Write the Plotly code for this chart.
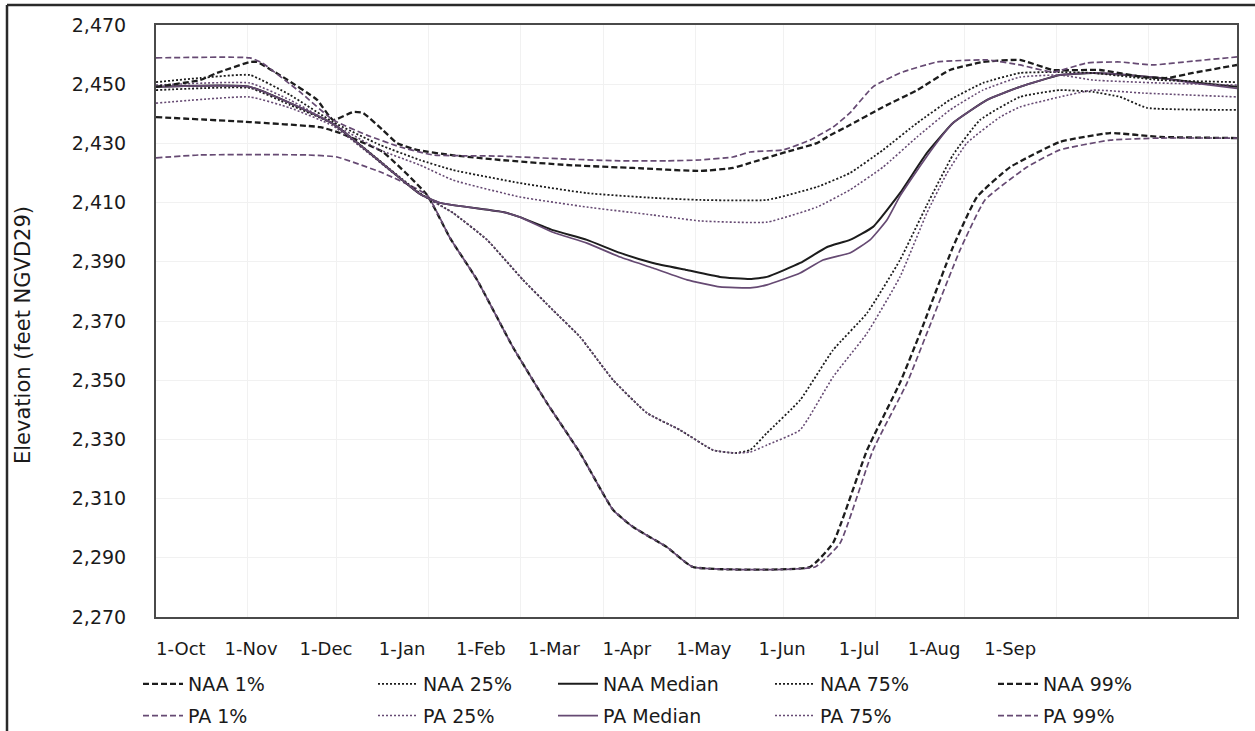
import plotly.graph_objects as go

# Horizontal axis runs in days from 1 October (0) to 30 September (365)
month_days = [0, 31, 61, 92, 123, 151, 182, 212, 243, 273, 304, 335]
month_labels = ["1-Oct", "1-Nov", "1-Dec", "1-Jan", "1-Feb", "1-Mar",
                "1-Apr", "1-May", "1-Jun", "1-Jul", "1-Aug", "1-Sep"]
# Category-label positions used on the axis (evenly spaced text labels)
label_pos = [8.4, 32.1, 57.4, 83.1, 109.7, 134.4, 159.0, 185.0, 211.4, 237.4, 262.7, 288.4]
elev_ticks = [2270, 2290, 2310, 2330, 2350, 2370, 2390, 2410, 2430, 2450, 2470]

# Reservoir elevation exceedance traces (feet NGVD29)
naa_01_day = [0, 31.7, 55.4, 62.1, 76.6, 91.5, 99.3, 108.4, 120.5, 132.0, 143.2, 154.3, 161.1, 172.5,
              181.3, 220.8, 228.6, 240.1, 251.2, 258.0, 269.1, 277.2, 288.4, 305.2, 322.1, 339.0, 365]
naa_01_elev = [2438.9, 2437.2, 2435.5, 2433.5, 2427.1, 2412.6, 2398.0, 2383.9, 2361.2, 2342.3, 2325.4,
               2306.2, 2300.4, 2293.6, 2286.9, 2286.9, 2295.0, 2326.4, 2349.1, 2365.9, 2395.0, 2411.9,
               2422.0, 2430.5, 2433.5, 2432.2, 2431.8]

pa_01_day = [0, 14.9, 51.0, 61.1, 76.6, 91.5, 99.3, 108.4, 120.5, 132.0, 143.2, 154.3, 161.1, 172.5,
             181.3, 222.5, 231.0, 242.1, 253.6, 260.3, 271.5, 279.9, 294.1, 305.2, 322.1, 339.0, 365]
pa_01_elev = [2425.1, 2426.1, 2426.1, 2425.4, 2420.0, 2412.6, 2398.0, 2383.9, 2361.2, 2342.3, 2325.4,
              2306.2, 2300.4, 2293.6, 2286.9, 2286.9, 2295.0, 2326.4, 2349.1, 2365.9, 2394.0, 2410.9,
              2422.0, 2427.8, 2431.1, 2431.8, 2431.8]

naa_25_day = [0, 31.7, 45.2, 59.8, 89.1, 100.3, 111.8, 123.9, 134.0, 143.2, 154.3, 165.8, 176.9, 188.1,
              195.5, 200.6, 206.3, 217.5, 228.6, 240.1, 251.2, 260.3, 269.1, 278.2, 291.7, 305.2, 316.4,
              325.5, 334.6, 365]
naa_25_elev = [2448.0, 2448.7, 2443.0, 2436.6, 2413.2, 2406.5, 2397.4, 2383.9, 2373.7, 2364.6, 2350.1,
               2338.9, 2333.2, 2326.4, 2325.4, 2326.4, 2332.2, 2343.3, 2360.2, 2372.7, 2390.6, 2409.2,
               2426.1, 2437.9, 2445.7, 2448.0, 2447.4, 2445.7, 2442.0, 2441.3]

pa_25_day = [0, 31.7, 45.2, 59.8, 89.1, 100.3, 111.8, 123.9, 134.0, 143.2, 154.3, 165.8, 176.9, 188.1,
             195.5, 200.6, 206.3, 217.5, 228.6, 240.1, 251.2, 260.3, 267.1, 273.8, 285.0, 291.7, 305.2,
             316.4, 333.3, 365]
pa_25_elev = [2443.6, 2445.7, 2442.0, 2435.9, 2412.9, 2406.5, 2397.4, 2383.9, 2373.7, 2364.6, 2350.1,
              2338.9, 2333.2, 2326.4, 2325.4, 2325.7, 2328.1, 2333.2, 2351.1, 2365.9, 2384.9, 2406.5,
              2420.0, 2430.1, 2438.9, 2442.3, 2445.7, 2448.0, 2447.0, 2445.7]

naa_med_day = [0, 31.7, 59.8, 89.1, 95.9, 117.2, 122.9, 134.0, 145.5, 156.7, 167.8, 179.3, 190.4, 200.6,
               206.3, 217.5, 226.6, 234.3, 242.1, 251.2, 260.3, 269.1, 280.6, 291.7, 305.2, 316.4, 327.9,
               339.0, 350.1, 365]
naa_med_elev = [2449.1, 2449.1, 2436.6, 2412.9, 2409.9, 2406.8, 2405.1, 2400.7, 2397.4, 2393.0, 2389.6,
                2387.2, 2384.9, 2384.2, 2384.9, 2389.6, 2395.0, 2397.4, 2401.8, 2413.2, 2426.8, 2436.9,
                2444.7, 2449.1, 2453.1, 2453.8, 2453.1, 2452.1, 2450.7, 2449.1]

pa_med_day = [0, 31.7, 59.8, 89.1, 95.9, 117.2, 122.9, 134.0, 145.5, 156.7, 167.8, 179.3, 190.4, 200.6,
              206.3, 217.5, 225.2, 234.3, 241.1, 246.8, 251.2, 260.3, 269.1, 280.6, 291.7, 305.2, 316.4,
              327.9, 339.0, 350.1, 365]
pa_med_elev = [2449.1, 2449.1, 2436.6, 2412.9, 2409.9, 2406.8, 2405.1, 2400.0, 2396.3, 2391.6, 2387.9,
               2383.9, 2381.5, 2381.2, 2382.2, 2386.2, 2390.6, 2393.0, 2397.4, 2404.1, 2412.2, 2425.7,
               2436.9, 2444.7, 2449.1, 2453.1, 2453.8, 2453.1, 2452.1, 2450.4, 2448.6]

naa_75_day = [0, 14.9, 31.7, 45.2, 59.8, 75.6, 89.1, 100.3, 122.9, 145.5, 167.8, 183.7, 206.3, 223.2,
              234.3, 245.5, 257.0, 268.1, 279.2, 291.7, 305.2, 316.4, 339.0, 365]
naa_75_elev = [2450.7, 2452.1, 2453.1, 2446.4, 2437.2, 2429.5, 2424.4, 2421.0, 2416.6, 2413.2, 2411.6,
               2410.9, 2410.9, 2415.3, 2420.0, 2427.8, 2436.9, 2444.7, 2450.4, 2453.8, 2454.1, 2453.8,
               2451.4, 2450.7]

pa_75_day = [0, 31.7, 45.2, 59.8, 75.6, 89.1, 100.3, 122.9, 145.5, 167.8, 183.7, 206.3, 223.2, 234.3,
             245.5, 257.0, 268.1, 279.2, 291.7, 305.2, 316.4, 339.0, 365]
pa_75_elev = [2449.7, 2450.4, 2444.7, 2436.6, 2427.8, 2422.7, 2417.6, 2411.9, 2408.5, 2405.8, 2403.8,
              2403.4, 2408.5, 2414.3, 2422.0, 2432.2, 2441.3, 2448.0, 2452.4, 2453.1, 2451.4, 2450.4,
              2449.7]

naa_99_day = [0, 14.9, 20.6, 31.7, 34.1, 42.9, 54.4, 59.8, 66.5, 69.9, 76.6, 81.4, 88.1, 99.3, 116.2,
              138.8, 161.1, 183.7, 194.8, 200.6, 211.7, 223.2, 226.6, 234.3, 245.5, 257.0, 268.1, 279.2,
              291.7, 302.9, 318.7, 333.3, 341.4, 350.1, 365]
naa_99_elev = [2449.1, 2451.4, 2453.8, 2457.5, 2457.5, 2452.4, 2444.7, 2437.9, 2440.6, 2440.3, 2434.5,
               2430.1, 2427.8, 2426.1, 2424.4, 2422.7, 2421.7, 2420.7, 2421.7, 2423.4, 2426.8, 2430.1,
               2432.2, 2436.2, 2442.3, 2448.0, 2454.8, 2457.5, 2458.2, 2454.8, 2454.8, 2452.4, 2452.1,
               2453.8, 2456.5]

pa_99_day = [0, 31.7, 35.8, 48.6, 59.8, 71.2, 82.4, 93.5, 116.2, 138.8, 156.7, 172.5, 183.7, 194.8,
             200.6, 211.7, 220.8, 228.6, 234.3, 242.1, 251.2, 263.7, 280.6, 291.7, 302.9, 314.4, 325.5,
             336.6, 350.1, 365]
pa_99_elev = [2458.9, 2458.9, 2457.2, 2447.4, 2437.9, 2432.8, 2428.8, 2426.1, 2425.7, 2424.7, 2424.1,
              2424.1, 2424.4, 2425.4, 2427.1, 2427.8, 2431.1, 2435.5, 2440.3, 2449.1, 2453.8, 2457.5,
              2458.2, 2456.5, 2454.1, 2457.2, 2457.5, 2456.5, 2457.8, 2459.2]

NAA_COLOR = "#1c1c1c"
PA_COLOR = "#664a73"
DASH = "6px,3px"
DOT = "2px,2px"

# name, x, y, colour, dash, width, legend column
series = [
    ("NAA 1%", naa_01_day, naa_01_elev, NAA_COLOR, DASH, 2.3, "legend"),
    ("PA 1%", pa_01_day, pa_01_elev, PA_COLOR, DASH, 1.7, "legend"),
    ("NAA 25%", naa_25_day, naa_25_elev, NAA_COLOR, DOT, 1.8, "legend2"),
    ("PA 25%", pa_25_day, pa_25_elev, PA_COLOR, DOT, 1.6, "legend2"),
    ("NAA Median", naa_med_day, naa_med_elev, NAA_COLOR, "solid", 2.0, "legend3"),
    ("PA Median", pa_med_day, pa_med_elev, PA_COLOR, "solid", 1.7, "legend3"),
    ("NAA 75%", naa_75_day, naa_75_elev, NAA_COLOR, DOT, 1.8, "legend4"),
    ("PA 75%", pa_75_day, pa_75_elev, PA_COLOR, DOT, 1.6, "legend4"),
    ("NAA 99%", naa_99_day, naa_99_elev, NAA_COLOR, DASH, 2.3, "legend5"),
    ("PA 99%", pa_99_day, pa_99_elev, PA_COLOR, DASH, 1.7, "legend5"),
]

fig = go.Figure()
for name, days, elev, color, dash, width, leg in series:
    fig.add_trace(go.Scatter(
        x=days, y=elev, mode="lines", name=name, legend=leg, legendgroup=name,
        line=dict(color=color, width=width, dash=dash, shape="spline", smoothing=0.4),
    ))

W, H = 1255, 731
L, R, T, B = 156, 18, 25, 114
pw, ph = W - L - R, H - T - B


def px_x(p):
    return (p - L) / pw


def px_y(p):
    return (H - B - p) / ph


FONT = "DejaVu Sans"
TEXT = "#1a1a1a"
SYMBOL_W = 40


def legend_box(text_left_px):
    return dict(
        orientation="v", x=px_x(text_left_px - SYMBOL_W - 10), xanchor="left",
        y=px_y(700), yanchor="middle", itemwidth=SYMBOL_W,
        font=dict(family=FONT, size=19, color=TEXT), tracegroupgap=4,
        bgcolor="rgba(0,0,0,0)", borderwidth=0,
    )


fig.update_layout(
    width=W, height=H,
    margin=dict(l=L, r=R, t=T, b=B, autoexpand=False),
    paper_bgcolor="white", plot_bgcolor="white",
    font=dict(family=FONT, size=19, color=TEXT),
    showlegend=True,
    legend=legend_box(188),
    legend2=legend_box(423),
    legend3=legend_box(603),
    legend4=legend_box(820),
    legend5=legend_box(1043),
    xaxis=dict(
        range=[0, 365], tickmode="array", tickvals=label_pos, ticktext=month_labels,
        showgrid=False, zeroline=False,
        minor=dict(tickmode="array", tickvals=month_days, showgrid=True,
                   gridcolor="#f1f1f1", gridwidth=1, ticks=""),
        showline=True, linecolor="#4a4a4a", linewidth=2, mirror=True,
        ticks="", ticklabelstandoff=14, tickfont=dict(family=FONT, size=18, color=TEXT),
    ),
    yaxis=dict(
        range=[2270, 2470], tickmode="array", tickvals=elev_ticks, tickformat=",",
        showgrid=True, gridcolor="#f1f1f1", gridwidth=1, zeroline=False,
        showline=True, linecolor="#4a4a4a", linewidth=2, mirror=True,
        ticks="", ticklabelstandoff=24, tickfont=dict(family=FONT, size=19, color=TEXT),
    ),
    annotations=[dict(
        text="Elevation (feet NGVD29)", textangle=-90,
        xref="paper", yref="paper", x=px_x(23), y=px_y(335),
        xanchor="center", yanchor="middle", showarrow=False,
        font=dict(family=FONT, size=21, color=TEXT),
    )],
    shapes=[
        dict(type="line", xref="paper", yref="paper",
             x0=px_x(7), x1=px_x(W + 2), y0=px_y(5), y1=px_y(5),
             line=dict(color="#2a2a2a", width=2.5)),
        dict(type="line", xref="paper", yref="paper",
             x0=px_x(7), x1=px_x(7), y0=px_y(5), y1=px_y(H + 2),
             line=dict(color="#2a2a2a", width=2.5)),
    ],
)

fig.write_html("out.html")
